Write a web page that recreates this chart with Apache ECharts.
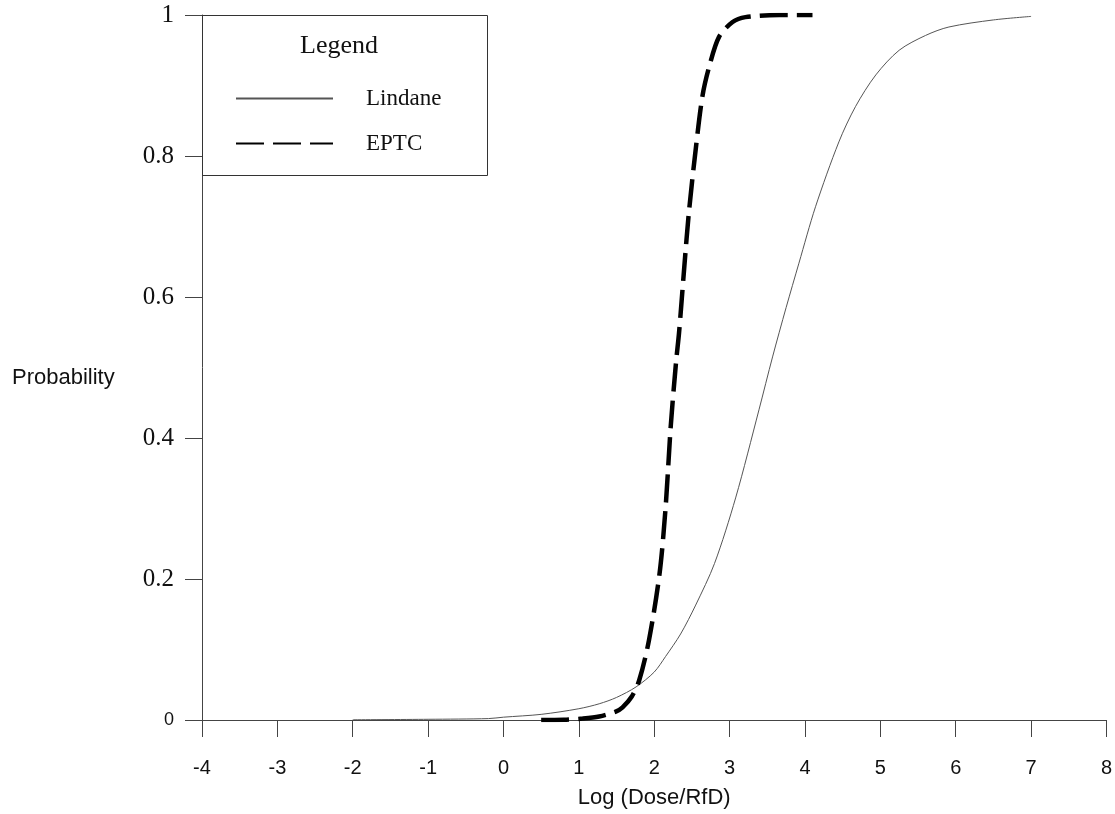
<!DOCTYPE html>
<html>
<head>
<meta charset="utf-8">
<script src="https://cdn.jsdelivr.net/npm/echarts@6/dist/echarts.min.js"></script>
<style>html,body{margin:0;padding:0;background:#fff}#c{width:1115px;height:814px}</style>
</head>
<body>
<div id="c"></div>
<script>
// Data
const seriesNames = ["Lindane", "EPTC"];
const lindaneX = [-2, -1, -0.2, 0, 0.5, 1.0, 1.27, 1.5, 1.76, 2.0, 2.15, 2.35, 2.55, 2.8, 3.08, 3.39, 3.57, 3.75, 3.92, 4.14, 4.45, 4.67, 4.94, 5.25, 5.6, 5.91, 6.5, 7.0];
const lindaneY = [0.0003, 0.001, 0.002, 0.004, 0.008, 0.016, 0.023, 0.032, 0.047, 0.068, 0.09, 0.122, 0.163, 0.222, 0.315, 0.44, 0.515, 0.585, 0.648, 0.728, 0.82, 0.87, 0.915, 0.95, 0.971, 0.983, 0.993, 0.998];
const eptcX = [0.5, 0.8, 1.05, 1.27, 1.49, 1.58, 1.7, 1.8, 1.93, 2.07, 2.15, 2.22, 2.29, 2.33, 2.4, 2.46, 2.55, 2.64, 2.73, 2.86, 3.04, 3.21, 3.66, 4.1];
const eptcY = [0.0, 0.0003, 0.002, 0.005, 0.012, 0.018, 0.033, 0.056, 0.113, 0.207, 0.30, 0.418, 0.508, 0.55, 0.644, 0.72, 0.809, 0.885, 0.927, 0.969, 0.99, 0.997, 1.0, 1.0];
const xTicks = [-4, -3, -2, -1, 0, 1, 2, 3, 4, 5, 6, 7, 8];
const yTicks = [0, 0.2, 0.4, 0.6, 0.8, 1];
const xName = "Log (Dose/RfD)";
const yName = "Probability";
const legendTitle = "Legend";

const pairs = (xs, ys) => xs.map((x, i) => [x, ys[i]]);

const chart = echarts.init(document.getElementById('c'), null, {renderer: 'canvas'});
const axisColor = '#444';
chart.setOption({
  animation: false,
  backgroundColor: '#fff',
  grid: {left: 202, right: 7, top: 15, bottom: 91, containLabel: false},
  xAxis: {
    type: 'value', min: xTicks[0], max: xTicks[xTicks.length - 1], interval: 1,
    name: xName, nameLocation: 'middle', nameGap: 67,
    nameTextStyle: {fontFamily: 'Liberation Sans', fontSize: 22, color: '#111'},
    axisLine: {show: true, onZero: false, lineStyle: {color: axisColor, width: 1}},
    axisTick: {show: true, inside: false, length: 17, lineStyle: {color: axisColor, width: 1}},
    axisLabel: {margin: 38, fontFamily: 'Liberation Sans', fontSize: 20, color: '#111'},
    splitLine: {show: false}
  },
  yAxis: {
    type: 'value', min: yTicks[0], max: yTicks[yTicks.length - 1], interval: 0.2,
    axisLine: {show: true, onZero: false, lineStyle: {color: axisColor, width: 1}},
    axisTick: {show: true, inside: false, length: 17, lineStyle: {color: axisColor, width: 1}},
    axisLabel: {
      margin: 28, color: '#111',
      formatter: v => v === 0 ? '{s|0}' : '{r|' + String(+v.toFixed(1)) + '}',
      rich: {
        s: {fontFamily: 'Liberation Sans', fontSize: 18, color: '#111'},
        r: {fontFamily: 'Liberation Serif', fontSize: 25, color: '#111'}
      }
    },
    splitLine: {show: false}
  },
  legend: {
    orient: 'vertical', left: 230, top: 77, itemWidth: 97, itemHeight: 14, itemGap: 12,
    data: seriesNames,
    itemStyle: {opacity: 0},
    textStyle: {fontFamily: 'Liberation Serif', fontSize: 23, lineHeight: 25, color: '#111', padding: [8, 0, 0, 28]}
  },
  graphic: [
    {type: 'rect', shape: {x: 202.5, y: 15.5, width: 285, height: 160},
     style: {fill: 'none', stroke: '#333', lineWidth: 1}, z: 10},
    {type: 'text', x: 339, y: 46, style: {text: legendTitle, font: '26px "Liberation Serif"', fill: '#111', textAlign: 'center', textVerticalAlign: 'middle'}, z: 10},
    {type: 'text', x: 12, y: 378, style: {text: yName, font: '22px "Liberation Sans"', fill: '#111', textAlign: 'left', textVerticalAlign: 'middle'}, z: 10}
  ],
  series: [
    {
      name: seriesNames[0], type: 'line', data: pairs(lindaneX, lindaneY),
      symbol: 'none', showSymbol: false, smooth: 0.3,
      lineStyle: {color: '#555', width: 1}, itemStyle: {color: '#555'}
    },
    {
      name: seriesNames[1], type: 'line', data: pairs(eptcX, eptcY),
      symbol: 'none', showSymbol: false, smooth: 0.3,
      lineStyle: {color: '#000', width: 4.5, type: [28, 9]}, itemStyle: {color: '#000'}
    }
  ]
});
</script>
</body>
</html>
